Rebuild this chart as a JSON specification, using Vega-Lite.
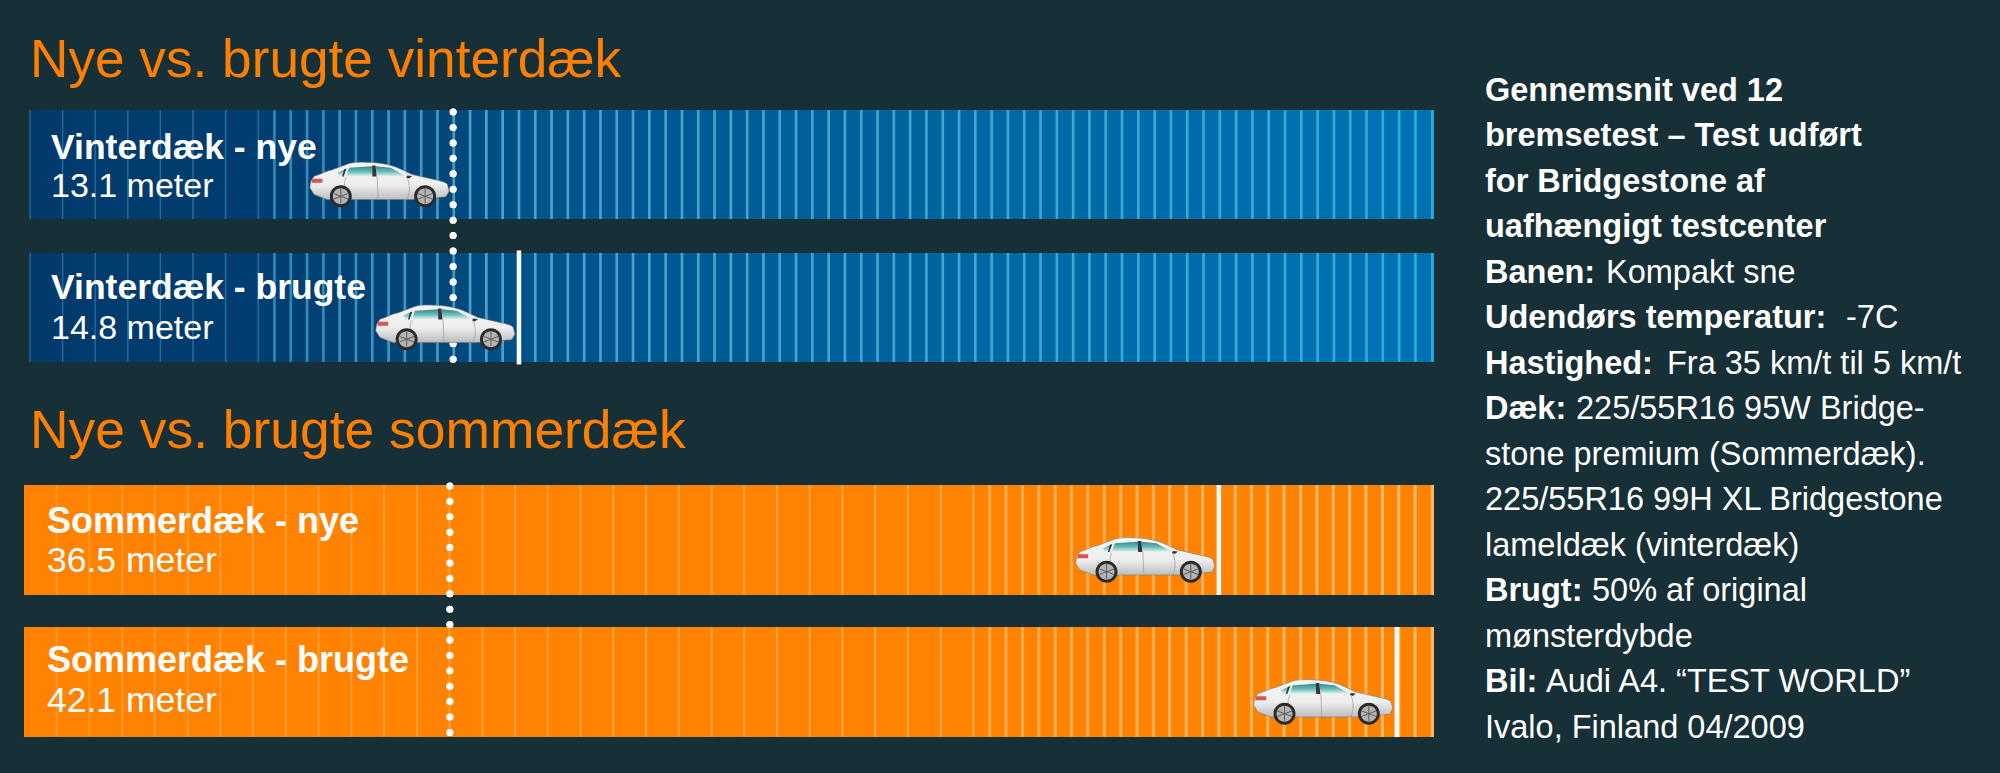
{
  "$schema": "https://vega.github.io/schema/vega-lite/v6.json",
  "background": "#172f36",
  "padding": {"left": 24, "top": 33, "right": 0, "bottom": 36},
  "config": {"font": "Liberation Sans", "view": {"stroke": null}, "axis": {"disable": true}},
  "datasets": {
    "vinter": [
      {"lane": "Vinterdæk - nye", "meter": "13.1 meter", "start": 0, "end": 43.07, "stop": 12.98, "whiteLine": false},
      {"lane": "Vinterdæk - brugte", "meter": "14.8 meter", "start": 0, "end": 43.07, "stop": 15.0, "whiteLine": true}
    ],
    "sommer": [
      {"lane": "Sommerdæk - nye", "meter": "36.5 meter", "start": -0.184, "end": 43.07, "stop": 36.47, "whiteLine": true},
      {"lane": "Sommerdæk - brugte", "meter": "42.1 meter", "start": -0.184, "end": 43.07, "stop": 41.93, "whiteLine": true}
    ],
    "vinterTicks": [
      {"m": 0}, {"m": 1}, {"m": 2}, {"m": 3}, {"m": 4}, {"m": 5}, {"m": 6}, {"m": 7}, {"m": 7.5}, {"m": 8}, {"m": 8.5}, {"m": 9}, {"m": 9.5}, {"m": 10}, {"m": 10.5}, {"m": 11}, {"m": 11.5}, {"m": 12}, {"m": 12.5}, {"m": 13}, {"m": 13.5}, {"m": 14}, {"m": 14.5}, {"m": 15}, {"m": 15.5}, {"m": 16}, {"m": 16.5}, {"m": 17}, {"m": 17.5}, {"m": 18}, {"m": 18.5}, {"m": 19}, {"m": 19.5}, {"m": 20}, {"m": 20.5}, {"m": 21}, {"m": 21.5}, {"m": 22}, {"m": 22.5}, {"m": 23}, {"m": 23.5}, {"m": 24}, {"m": 24.5}, {"m": 25}, {"m": 25.5}, {"m": 26}, {"m": 26.5}, {"m": 27}, {"m": 27.5}, {"m": 28}, {"m": 28.5}, {"m": 29}, {"m": 29.5}, {"m": 30}, {"m": 30.5}, {"m": 31}, {"m": 31.5}, {"m": 32}, {"m": 32.5}, {"m": 33}, {"m": 33.5}, {"m": 34}, {"m": 34.5}, {"m": 35}, {"m": 35.5}, {"m": 36}, {"m": 36.5}, {"m": 37}, {"m": 37.5}, {"m": 38}, {"m": 38.5}, {"m": 39}, {"m": 39.5}, {"m": 40}, {"m": 40.5}, {"m": 41}, {"m": 41.5}, {"m": 42}, {"m": 42.5}, {"m": 43.02}
    ],
    "sommerTicks": [
      {"m": 0.82}, {"m": 1.82}, {"m": 2.83}, {"m": 3.83}, {"m": 4.84}, {"m": 5.84}, {"m": 6.84}, {"m": 7.85}, {"m": 8.85}, {"m": 9.86}, {"m": 10.86}, {"m": 11.87}, {"m": 12.87}, {"m": 13.88}, {"m": 14.88}, {"m": 15.88}, {"m": 16.89}, {"m": 17.89}, {"m": 18.9}, {"m": 19.9}, {"m": 20.91}, {"m": 21.91}, {"m": 22.91}, {"m": 23.92}, {"m": 24.92}, {"m": 25.93}, {"m": 26.93}, {"m": 27.94}, {"m": 28.94}, {"m": 29.44}, {"m": 29.94}, {"m": 30.45}, {"m": 30.95}, {"m": 31.45}, {"m": 31.95}, {"m": 32.45}, {"m": 32.96}, {"m": 33.46}, {"m": 33.96}, {"m": 34.46}, {"m": 34.96}, {"m": 35.47}, {"m": 35.97}, {"m": 36.47}, {"m": 36.97}, {"m": 37.47}, {"m": 37.97}, {"m": 38.47}, {"m": 38.98}, {"m": 39.48}, {"m": 39.98}, {"m": 40.48}, {"m": 40.98}, {"m": 41.49}, {"m": 41.99}, {"m": 42.49}, {"m": 43.02}
    ],
    "notes": [
      {"line": 1, "bold": "Gennemsnit ved 12", "rest": ""},
      {"line": 2, "bold": "bremsetest – Test udført", "rest": ""},
      {"line": 3, "bold": "for Bridgestone af", "rest": ""},
      {"line": 4, "bold": "uafhængigt testcenter", "rest": ""},
      {"line": 5, "bold": "Banen:", "rest": "Kompakt sne"},
      {"line": 6, "bold": "Udendørs temperatur:", "rest": "-7C"},
      {"line": 7, "bold": "Hastighed:", "rest": "Fra 35 km/t til 5 km/t"},
      {"line": 8, "bold": "Dæk:", "rest": "225/55R16 95W Bridge-"},
      {"line": 9, "bold": "", "rest": "stone premium (Sommerdæk)."},
      {"line": 10, "bold": "", "rest": "225/55R16 99H XL Bridgestone"},
      {"line": 11, "bold": "", "rest": "lameldæk (vinterdæk)"},
      {"line": 12, "bold": "Brugt:", "rest": "50% af original"},
      {"line": 13, "bold": "", "rest": "mønsterdybde"},
      {"line": 14, "bold": "Bil:", "rest": "Audi A4. “TEST WORLD”"},
      {"line": 15, "bold": "", "rest": "Ivalo, Finland 04/2009"}
    ]
  },
  "hconcat": [
    {
      "spacing": 39,
      "resolve": {"scale": {"color": "independent"}},
      "vconcat": [
        {
          "width": 1410,
          "height": 252,
          "title": {"text": "Nye vs. brugte vinterdæk", "anchor": "start", "frame": "group", "fontSize": 53.2, "fontWeight": "normal", "color": "#ff8000", "baseline": "alphabetic", "dx": 6, "offset": -23.5},
          "data": {"name": "vinter"},
          "layer": [
            {
              "mark": {"type": "bar", "color": {"gradient": "linear", "x1": 0, "y1": 0, "x2": 1, "y2": 0, "stops": [{"offset": 0, "color": "#033a6c"}, {"offset": 0.16, "color": "#003d70"}, {"offset": 0.3, "color": "#02477c"}, {"offset": 0.35, "color": "#00528a"}, {"offset": 0.7, "color": "#0068a5"}, {"offset": 1, "color": "#0072b4"}]}},
              "encoding": {
                "x": {"field": "start", "type": "quantitative", "scale": {"domain": [-0.184, 43.07], "nice": false, "zero": false}},
                "x2": {"field": "end"},
                "y": {"field": "lane", "type": "nominal", "scale": {"domain": ["Vinterdæk - nye", "Vinterdæk - brugte"], "paddingInner": 0.2364, "paddingOuter": 0}}
              }
            },
            {
              "data": {"name": "vinterTicks"},
              "mark": {"type": "tick", "thickness": {"expr": "datum.m < 7.5 ? 1.5 : 2.7"}, "size": 109, "opacity": 1},
              "encoding": {
                "x": {"field": "m", "type": "quantitative", "scale": {"domain": [-0.184, 43.07], "nice": false, "zero": false}},
                "y": {"datum": "Vinterdæk - nye", "type": "nominal", "scale": {"domain": ["Vinterdæk - nye", "Vinterdæk - brugte"], "paddingInner": 0.2364, "paddingOuter": 0}},
                "color": {"field": "m", "type": "quantitative", "legend": null, "scale": {"domain": [0, 7, 7.5, 14, 25, 43], "range": ["#1e6a9c", "#236f9e", "#2d88b0", "#4aa3c6", "#3ea6cc", "#25b0dc"]}}
              }
            },
            {
              "data": {"name": "vinterTicks"},
              "mark": {"type": "tick", "thickness": {"expr": "datum.m < 7.5 ? 1.5 : 2.7"}, "size": 109, "opacity": 1},
              "encoding": {
                "x": {"field": "m", "type": "quantitative", "scale": {"domain": [-0.184, 43.07], "nice": false, "zero": false}},
                "y": {"datum": "Vinterdæk - brugte", "type": "nominal", "scale": {"domain": ["Vinterdæk - nye", "Vinterdæk - brugte"], "paddingInner": 0.2364, "paddingOuter": 0}},
                "color": {"field": "m", "type": "quantitative", "legend": null, "scale": {"domain": [0, 7, 7.5, 14, 25, 43], "range": ["#1e6a9c", "#236f9e", "#2d88b0", "#4aa3c6", "#3ea6cc", "#25b0dc"]}}
              }
            },
            {
              "transform": [{"filter": "datum.whiteLine"}],
              "mark": {"type": "tick", "thickness": 4.5, "size": 114, "opacity": 1, "color": "white"},
              "encoding": {
                "x": {"field": "stop", "type": "quantitative", "scale": {"domain": [-0.184, 43.07], "nice": false, "zero": false}},
                "y": {"field": "lane", "type": "nominal", "scale": {"domain": ["Vinterdæk - nye", "Vinterdæk - brugte"], "paddingInner": 0.2364, "paddingOuter": 0}}
              }
            },
            {
              "mark": {"type": "rule", "color": "white", "strokeWidth": 7, "strokeCap": "round", "strokeDash": [0.01, 15.44], "strokeDashOffset": -2},
              "encoding": {
                "x": {"datum": 12.98, "type": "quantitative", "scale": {"domain": [-0.184, 43.07], "nice": false, "zero": false}}
              }
            },
            {
              "mark": {"type": "point", "size": 4, "filled": true, "opacity": 1, "shape": "M-139 11.7C-130 9 -126 6 -122 5.7L-104 -1C-98 -3 -80 -3 -66 0C-56 2 -48 7 -41 10L-16 15.7C-10 17 -7 18 -5.7 20L-4 26.7L-7.3 32.3L-42 35L-126 35L-139 30L-143.3 23.3L-142.3 16.7Z", "fill": {"gradient": "linear", "x1": 0, "y1": 0, "x2": 0, "y2": 1, "stops": [{"offset": 0, "color": "#f5f5f5"}, {"offset": 0.6, "color": "#eeeeee"}, {"offset": 1, "color": "#bdbdbd"}]}, "stroke": "#777777", "strokeWidth": 0.6},
              "encoding": {
                "x": {"field": "stop", "type": "quantitative", "scale": {"domain": [-0.184, 43.07], "nice": false, "zero": false}},
                "y": {"field": "lane", "type": "nominal", "scale": {"domain": ["Vinterdæk - nye", "Vinterdæk - brugte"], "paddingInner": 0.2364, "paddingOuter": 0}}
              }
            },
            {
              "mark": {"type": "point", "size": 4, "filled": true, "opacity": 1, "shape": "M-104 3.3L-80.7 1.7L-80.7 11.7L-107.3 11.7ZM-77.3 1.7L-62.3 3.3L-47.3 11.7L-76.3 11.7ZM-115.7 8.3L-107.3 4.3L-109.7 11.7L-114 11Z", "fill": {"gradient": "linear", "x1": 0, "y1": 0, "x2": 0, "y2": 1, "stops": [{"offset": 0, "color": "#2e8b8c"}, {"offset": 0.55, "color": "#6dbdb8"}, {"offset": 1, "color": "#dff2ef"}]}},
              "encoding": {
                "x": {"field": "stop", "type": "quantitative", "scale": {"domain": [-0.184, 43.07], "nice": false, "zero": false}},
                "y": {"field": "lane", "type": "nominal", "scale": {"domain": ["Vinterdæk - nye", "Vinterdæk - brugte"], "paddingInner": 0.2364, "paddingOuter": 0}}
              }
            },
            {
              "mark": {"type": "point", "size": 4, "filled": true, "opacity": 1, "color": "#33383a", "shape": "M-81 1L-77.5 1L-76.5 12L-80.7 12ZM-46 11L-41 11.5L-44 14L-47 13ZM-109 5L-106.5 4L-109.5 12L-111 12Z"},
              "encoding": {
                "x": {"field": "stop", "type": "quantitative", "scale": {"domain": [-0.184, 43.07], "nice": false, "zero": false}},
                "y": {"field": "lane", "type": "nominal", "scale": {"domain": ["Vinterdæk - nye", "Vinterdæk - brugte"], "paddingInner": 0.2364, "paddingOuter": 0}}
              }
            },
            {
              "mark": {"type": "point", "size": 4, "filled": false, "opacity": 1, "color": "#9a9a9a", "strokeWidth": 0.7, "shape": "M-76 12L-75 35M-107 13C-111 20 -108 31 -101 35M-46 13C-43 20 -43 28 -46 35"},
              "encoding": {
                "x": {"field": "stop", "type": "quantitative", "scale": {"domain": [-0.184, 43.07], "nice": false, "zero": false}},
                "y": {"field": "lane", "type": "nominal", "scale": {"domain": ["Vinterdæk - nye", "Vinterdæk - brugte"], "paddingInner": 0.2364, "paddingOuter": 0}}
              }
            },
            {
              "mark": {"type": "point", "size": 4, "filled": true, "opacity": 1, "color": "#d9534f", "shape": "M-140.7 14.3L-130.7 14.3L-130.7 18.3L-141.7 18.3Z"},
              "encoding": {
                "x": {"field": "stop", "type": "quantitative", "scale": {"domain": [-0.184, 43.07], "nice": false, "zero": false}},
                "y": {"field": "lane", "type": "nominal", "scale": {"domain": ["Vinterdæk - nye", "Vinterdæk - brugte"], "paddingInner": 0.2364, "paddingOuter": 0}}
              }
            },
            {
              "mark": {"type": "point", "size": 4, "filled": true, "opacity": 1, "color": "#2b2b2b", "shape": "M-123.3 31.7a11 11 0 1 0 22 0a11 11 0 1 0 -22 0ZM-39 31.7a11 11 0 1 0 22 0a11 11 0 1 0 -22 0Z"},
              "encoding": {
                "x": {"field": "stop", "type": "quantitative", "scale": {"domain": [-0.184, 43.07], "nice": false, "zero": false}},
                "y": {"field": "lane", "type": "nominal", "scale": {"domain": ["Vinterdæk - nye", "Vinterdæk - brugte"], "paddingInner": 0.2364, "paddingOuter": 0}}
              }
            },
            {
              "mark": {"type": "point", "size": 4, "filled": true, "opacity": 1, "color": "#b4b4b4", "shape": "M-120.3 31.7a8 8 0 1 0 16 0a8 8 0 1 0 -16 0ZM-36 31.7a8 8 0 1 0 16 0a8 8 0 1 0 -16 0Z"},
              "encoding": {
                "x": {"field": "stop", "type": "quantitative", "scale": {"domain": [-0.184, 43.07], "nice": false, "zero": false}},
                "y": {"field": "lane", "type": "nominal", "scale": {"domain": ["Vinterdæk - nye", "Vinterdæk - brugte"], "paddingInner": 0.2364, "paddingOuter": 0}}
              }
            },
            {
              "mark": {"type": "point", "size": 4, "filled": false, "opacity": 1, "color": "#5e5e5e", "strokeWidth": 1, "shape": "M-112.3 24V39M-119.5 29L-105 34.5M-119.5 34.5L-105 29M-28 24V39M-35.2 29L-20.8 34.5M-35.2 34.5L-20.8 29"},
              "encoding": {
                "x": {"field": "stop", "type": "quantitative", "scale": {"domain": [-0.184, 43.07], "nice": false, "zero": false}},
                "y": {"field": "lane", "type": "nominal", "scale": {"domain": ["Vinterdæk - nye", "Vinterdæk - brugte"], "paddingInner": 0.2364, "paddingOuter": 0}}
              }
            },
            {
              "mark": {"type": "text", "align": "left", "baseline": "alphabetic", "fontSize": 35.5, "fontWeight": "bold", "color": "white", "dx": 21, "dy": {"expr": "datum.lane === 'Vinterdæk - nye' ? -5.5 : -8.5"}},
              "encoding": {
                "x": {"datum": 0, "type": "quantitative", "scale": {"domain": [-0.184, 43.07], "nice": false, "zero": false}},
                "y": {"field": "lane", "type": "nominal", "scale": {"domain": ["Vinterdæk - nye", "Vinterdæk - brugte"], "paddingInner": 0.2364, "paddingOuter": 0}},
                "text": {"field": "lane"}
              }
            },
            {
              "mark": {"type": "text", "align": "left", "baseline": "alphabetic", "fontSize": 34, "color": "white", "dx": 21, "dy": 32},
              "encoding": {
                "x": {"datum": 0, "type": "quantitative", "scale": {"domain": [-0.184, 43.07], "nice": false, "zero": false}},
                "y": {"field": "lane", "type": "nominal", "scale": {"domain": ["Vinterdæk - nye", "Vinterdæk - brugte"], "paddingInner": 0.2364, "paddingOuter": 0}},
                "text": {"field": "meter"}
              }
            }
          ]
        },
        {
          "width": 1410,
          "height": 252,
          "title": {"text": "Nye vs. brugte sommerdæk", "anchor": "start", "frame": "group", "fontSize": 53.4, "fontWeight": "normal", "color": "#ff8000", "baseline": "alphabetic", "dx": 6, "offset": -20},
          "data": {"name": "sommer"},
          "layer": [
            {
              "mark": {"type": "bar", "color": "#ff8300"},
              "encoding": {
                "x": {"field": "start", "type": "quantitative", "scale": {"domain": [-0.184, 43.07], "nice": false, "zero": false}},
                "x2": {"field": "end"},
                "y": {"field": "lane", "type": "nominal", "scale": {"domain": ["Sommerdæk - nye", "Sommerdæk - brugte"], "paddingInner": 0.225, "paddingOuter": 0}}
              }
            },
            {
              "data": {"name": "sommerTicks"},
              "mark": {"type": "tick", "thickness": {"expr": "datum.m < 29 ? 2 : 3"}, "size": 110, "opacity": 1},
              "encoding": {
                "x": {"field": "m", "type": "quantitative", "scale": {"domain": [-0.184, 43.07], "nice": false, "zero": false}},
                "y": {"datum": "Sommerdæk - nye", "type": "nominal", "scale": {"domain": ["Sommerdæk - nye", "Sommerdæk - brugte"], "paddingInner": 0.225, "paddingOuter": 0}},
                "color": {"field": "m", "type": "quantitative", "legend": null, "scale": {"domain": [0, 29, 43], "range": ["#ff9526", "#ffa94e", "#ffbb6c"]}}
              }
            },
            {
              "data": {"name": "sommerTicks"},
              "mark": {"type": "tick", "thickness": {"expr": "datum.m < 29 ? 2 : 3"}, "size": 110, "opacity": 1},
              "encoding": {
                "x": {"field": "m", "type": "quantitative", "scale": {"domain": [-0.184, 43.07], "nice": false, "zero": false}},
                "y": {"datum": "Sommerdæk - brugte", "type": "nominal", "scale": {"domain": ["Sommerdæk - nye", "Sommerdæk - brugte"], "paddingInner": 0.225, "paddingOuter": 0}},
                "color": {"field": "m", "type": "quantitative", "legend": null, "scale": {"domain": [0, 29, 43], "range": ["#ff9526", "#ffa94e", "#ffbb6c"]}}
              }
            },
            {
              "transform": [{"filter": "datum.whiteLine"}],
              "mark": {"type": "tick", "thickness": 4.5, "size": 110, "opacity": 1, "color": "white"},
              "encoding": {
                "x": {"field": "stop", "type": "quantitative", "scale": {"domain": [-0.184, 43.07], "nice": false, "zero": false}},
                "y": {"field": "lane", "type": "nominal", "scale": {"domain": ["Sommerdæk - nye", "Sommerdæk - brugte"], "paddingInner": 0.225, "paddingOuter": 0}}
              }
            },
            {
              "mark": {"type": "rule", "color": "white", "strokeWidth": 7, "strokeCap": "round", "strokeDash": [0.01, 15.39], "strokeDashOffset": -1},
              "encoding": {
                "x": {"datum": 12.88, "type": "quantitative", "scale": {"domain": [-0.184, 43.07], "nice": false, "zero": false}}
              }
            },
            {
              "mark": {"type": "point", "size": 4, "filled": true, "opacity": 1, "shape": "M-139 11.7C-130 9 -126 6 -122 5.7L-104 -1C-98 -3 -80 -3 -66 0C-56 2 -48 7 -41 10L-16 15.7C-10 17 -7 18 -5.7 20L-4 26.7L-7.3 32.3L-42 35L-126 35L-139 30L-143.3 23.3L-142.3 16.7Z", "fill": {"gradient": "linear", "x1": 0, "y1": 0, "x2": 0, "y2": 1, "stops": [{"offset": 0, "color": "#f5f5f5"}, {"offset": 0.6, "color": "#eeeeee"}, {"offset": 1, "color": "#bdbdbd"}]}, "stroke": "#777777", "strokeWidth": 0.6},
              "encoding": {
                "x": {"field": "stop", "type": "quantitative", "scale": {"domain": [-0.184, 43.07], "nice": false, "zero": false}},
                "y": {"field": "lane", "type": "nominal", "scale": {"domain": ["Sommerdæk - nye", "Sommerdæk - brugte"], "paddingInner": 0.225, "paddingOuter": 0}}
              }
            },
            {
              "mark": {"type": "point", "size": 4, "filled": true, "opacity": 1, "shape": "M-104 3.3L-80.7 1.7L-80.7 11.7L-107.3 11.7ZM-77.3 1.7L-62.3 3.3L-47.3 11.7L-76.3 11.7ZM-115.7 8.3L-107.3 4.3L-109.7 11.7L-114 11Z", "fill": {"gradient": "linear", "x1": 0, "y1": 0, "x2": 0, "y2": 1, "stops": [{"offset": 0, "color": "#2e8b8c"}, {"offset": 0.55, "color": "#6dbdb8"}, {"offset": 1, "color": "#dff2ef"}]}},
              "encoding": {
                "x": {"field": "stop", "type": "quantitative", "scale": {"domain": [-0.184, 43.07], "nice": false, "zero": false}},
                "y": {"field": "lane", "type": "nominal", "scale": {"domain": ["Sommerdæk - nye", "Sommerdæk - brugte"], "paddingInner": 0.225, "paddingOuter": 0}}
              }
            },
            {
              "mark": {"type": "point", "size": 4, "filled": true, "opacity": 1, "color": "#33383a", "shape": "M-81 1L-77.5 1L-76.5 12L-80.7 12ZM-46 11L-41 11.5L-44 14L-47 13ZM-109 5L-106.5 4L-109.5 12L-111 12Z"},
              "encoding": {
                "x": {"field": "stop", "type": "quantitative", "scale": {"domain": [-0.184, 43.07], "nice": false, "zero": false}},
                "y": {"field": "lane", "type": "nominal", "scale": {"domain": ["Sommerdæk - nye", "Sommerdæk - brugte"], "paddingInner": 0.225, "paddingOuter": 0}}
              }
            },
            {
              "mark": {"type": "point", "size": 4, "filled": false, "opacity": 1, "color": "#9a9a9a", "strokeWidth": 0.7, "shape": "M-76 12L-75 35M-107 13C-111 20 -108 31 -101 35M-46 13C-43 20 -43 28 -46 35"},
              "encoding": {
                "x": {"field": "stop", "type": "quantitative", "scale": {"domain": [-0.184, 43.07], "nice": false, "zero": false}},
                "y": {"field": "lane", "type": "nominal", "scale": {"domain": ["Sommerdæk - nye", "Sommerdæk - brugte"], "paddingInner": 0.225, "paddingOuter": 0}}
              }
            },
            {
              "mark": {"type": "point", "size": 4, "filled": true, "opacity": 1, "color": "#d9534f", "shape": "M-140.7 14.3L-130.7 14.3L-130.7 18.3L-141.7 18.3Z"},
              "encoding": {
                "x": {"field": "stop", "type": "quantitative", "scale": {"domain": [-0.184, 43.07], "nice": false, "zero": false}},
                "y": {"field": "lane", "type": "nominal", "scale": {"domain": ["Sommerdæk - nye", "Sommerdæk - brugte"], "paddingInner": 0.225, "paddingOuter": 0}}
              }
            },
            {
              "mark": {"type": "point", "size": 4, "filled": true, "opacity": 1, "color": "#2b2b2b", "shape": "M-123.3 31.7a11 11 0 1 0 22 0a11 11 0 1 0 -22 0ZM-39 31.7a11 11 0 1 0 22 0a11 11 0 1 0 -22 0Z"},
              "encoding": {
                "x": {"field": "stop", "type": "quantitative", "scale": {"domain": [-0.184, 43.07], "nice": false, "zero": false}},
                "y": {"field": "lane", "type": "nominal", "scale": {"domain": ["Sommerdæk - nye", "Sommerdæk - brugte"], "paddingInner": 0.225, "paddingOuter": 0}}
              }
            },
            {
              "mark": {"type": "point", "size": 4, "filled": true, "opacity": 1, "color": "#b4b4b4", "shape": "M-120.3 31.7a8 8 0 1 0 16 0a8 8 0 1 0 -16 0ZM-36 31.7a8 8 0 1 0 16 0a8 8 0 1 0 -16 0Z"},
              "encoding": {
                "x": {"field": "stop", "type": "quantitative", "scale": {"domain": [-0.184, 43.07], "nice": false, "zero": false}},
                "y": {"field": "lane", "type": "nominal", "scale": {"domain": ["Sommerdæk - nye", "Sommerdæk - brugte"], "paddingInner": 0.225, "paddingOuter": 0}}
              }
            },
            {
              "mark": {"type": "point", "size": 4, "filled": false, "opacity": 1, "color": "#5e5e5e", "strokeWidth": 1, "shape": "M-112.3 24V39M-119.5 29L-105 34.5M-119.5 34.5L-105 29M-28 24V39M-35.2 29L-20.8 34.5M-35.2 34.5L-20.8 29"},
              "encoding": {
                "x": {"field": "stop", "type": "quantitative", "scale": {"domain": [-0.184, 43.07], "nice": false, "zero": false}},
                "y": {"field": "lane", "type": "nominal", "scale": {"domain": ["Sommerdæk - nye", "Sommerdæk - brugte"], "paddingInner": 0.225, "paddingOuter": 0}}
              }
            },
            {
              "mark": {"type": "text", "align": "left", "baseline": "alphabetic", "fontSize": 36, "fontWeight": "bold", "color": "white", "dx": 17, "dy": {"expr": "datum.lane === 'Sommerdæk - nye' ? -7 : -10"}},
              "encoding": {
                "x": {"datum": 0, "type": "quantitative", "scale": {"domain": [-0.184, 43.07], "nice": false, "zero": false}},
                "y": {"field": "lane", "type": "nominal", "scale": {"domain": ["Sommerdæk - nye", "Sommerdæk - brugte"], "paddingInner": 0.225, "paddingOuter": 0}},
                "text": {"field": "lane"}
              }
            },
            {
              "mark": {"type": "text", "align": "left", "baseline": "alphabetic", "fontSize": 35.5, "color": "white", "dx": 17, "dy": {"expr": "datum.lane === 'Sommerdæk - nye' ? 32 : 30"}},
              "encoding": {
                "x": {"datum": 0, "type": "quantitative", "scale": {"domain": [-0.184, 43.07], "nice": false, "zero": false}},
                "y": {"field": "lane", "type": "nominal", "scale": {"domain": ["Sommerdæk - nye", "Sommerdæk - brugte"], "paddingInner": 0.225, "paddingOuter": 0}},
                "text": {"field": "meter"}
              }
            }
          ]
        }
      ]
    },
    {
      "width": 515,
      "height": 637,
      "data": {"name": "notes"},
      "encoding": {
        "y": {"field": "line", "type": "ordinal", "scale": {"type": "point", "padding": 0}}
      },
      "layer": [
        {
          "mark": {"type": "text", "align": "left", "baseline": "alphabetic", "x": 0, "fontSize": 32.5, "fontWeight": "bold", "color": "white", "dy": -9.5},
          "encoding": {"text": {"field": "bold"}}
        },
        {
          "mark": {"type": "text", "align": "left", "baseline": "alphabetic", "x": 0, "fontSize": 32.5, "color": "white", "dy": -9.5, "dx": {"expr": "({'Banen:': 121, 'Udendørs temperatur:': 361, 'Hastighed:': 182, 'Dæk:': 91, 'Brugt:': 107, 'Bil:': 61})[datum.bold] || 0"}},
          "encoding": {"text": {"field": "rest"}}
        }
      ]
    }
  ],
  "spacing": 51
}
